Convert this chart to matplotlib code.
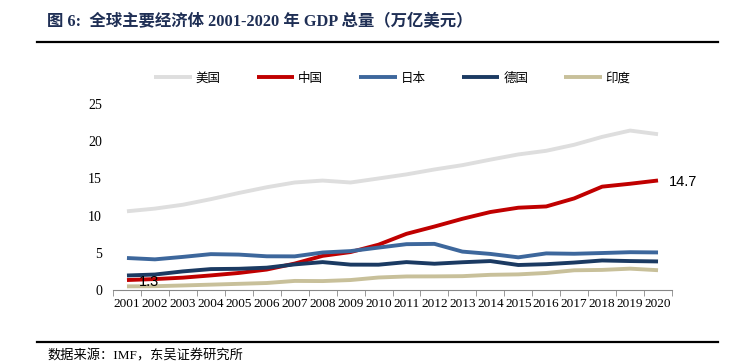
import matplotlib
matplotlib.use("Agg")
import matplotlib.pyplot as plt
from matplotlib.lines import Line2D

# data (万亿美元)
years = [str(y) for y in range(2001, 2021)]
us = [10.58, 10.94, 11.46, 12.21, 13.04, 13.81, 14.45, 14.71, 14.45, 14.99,
      15.54, 16.20, 16.78, 17.52, 18.22, 18.71, 19.52, 20.58, 21.43, 20.94]
china = [1.34, 1.47, 1.66, 1.96, 2.29, 2.75, 3.55, 4.59, 5.10, 6.09,
         7.55, 8.53, 9.57, 10.48, 11.06, 11.23, 12.31, 13.89, 14.28, 14.72]
japan = [4.30, 4.12, 4.45, 4.82, 4.76, 4.53, 4.52, 5.04, 5.23, 5.70,
         6.16, 6.20, 5.16, 4.85, 4.39, 4.92, 4.87, 4.97, 5.08, 5.05]
germany = [1.95, 2.08, 2.50, 2.81, 2.85, 3.00, 3.44, 3.75, 3.41, 3.40,
           3.75, 3.53, 3.73, 3.89, 3.36, 3.47, 3.69, 3.97, 3.89, 3.84]
india = [0.49, 0.51, 0.61, 0.72, 0.83, 0.94, 1.22, 1.20, 1.34, 1.68,
         1.82, 1.83, 1.86, 2.04, 2.10, 2.29, 2.65, 2.70, 2.87, 2.66]
names = ["美国", "中国", "日本", "德国", "印度"]
colors = ["#dedede", "#c00000", "#3d679c", "#1b3a62", "#c8c09a"]

plt.rcParams['font.family'] = ['Liberation Serif', 'Noto Sans CJK SC']

fig = plt.figure(figsize=(7.45, 3.64), dpi=100)
ax = fig.add_axes([113 / 745, 74 / 364, 559 / 745, 186 / 364])

x = list(range(len(years)))
for vals, name, c in zip([us, china, japan, germany, india], names, colors):
    ax.plot(x, vals, color=c, lw=2.8, label=name, solid_capstyle='butt')

ax.set_xlim(-0.5, len(years) - 0.5)
ax.set_ylim(0, 25)
ax.set_yticks([0, 5, 10, 15, 20, 25])
ax.set_xticks(x)
ax.set_xticklabels(years)
ax.set_xticks([i - 0.5 for i in range(len(years) + 1)], minor=True)
ax.tick_params(axis='x', which='major', length=0, pad=6, labelsize=9.5)
ax.tick_params(axis='x', which='minor', length=4, color='#888888')
ax.tick_params(axis='y', length=0, labelsize=10, pad=8)
for s in ['top', 'right', 'left']:
    ax.spines[s].set_visible(False)
ax.spines['bottom'].set_color('#888888')

# value labels
ax.annotate("1.3", (0, china[0]), xytext=(16, -1.5), textcoords='offset points',
            ha='center', va='center', fontsize=10.5, family='Liberation Sans')
ax.annotate("14.7", (x[-1], china[-1]), xytext=(18, -1), textcoords='offset points',
            ha='center', va='center', fontsize=10.5, family='Liberation Sans')

ax.legend(loc='center', bbox_to_anchor=(0.5, (364 - 78 - 74) / 186), ncol=5,
          frameon=False, handlelength=3.0, handletextpad=0.3, columnspacing=2.9,
          prop={'family': ['Noto Sans CJK SC'], 'size': 9})

# title, rules and source
fig.text(47 / 745, 1 - 22 / 364, "图 6:  全球主要经济体 2001-2020 年 GDP 总量（万亿美元）",
         fontsize=11.8, fontweight='bold', color='#1f2f55', va='center', ha='left')
fig.add_artist(Line2D([37 / 745, 718 / 745], [1 - 42 / 364] * 2, color='black', lw=1.6))
fig.add_artist(Line2D([37 / 745, 718 / 745], [1 - 342 / 364] * 2, color='black', lw=1.6))
fig.text(47 / 745, 1 - 356 / 364, "数据来源：IMF，东吴证券研究所", fontsize=9.5,
         va='center', ha='left')

fig.savefig("out.png", dpi=100)
